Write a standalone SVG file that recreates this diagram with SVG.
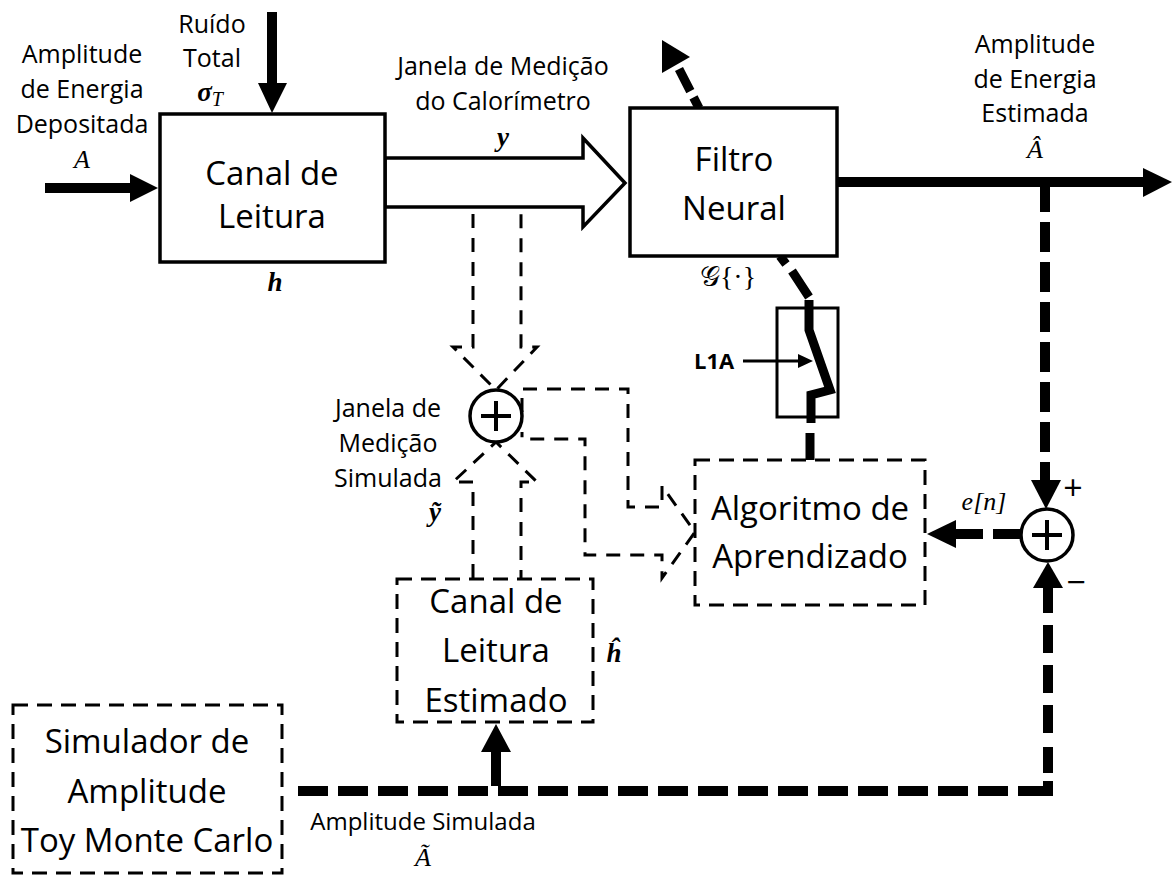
<svg xmlns="http://www.w3.org/2000/svg" width="1173" height="877" viewBox="0 0 1173 877">
<style>
.t{font-family:"Open Sans","Liberation Sans",sans-serif;font-size:25px;fill:#000;text-anchor:middle}
.b{font-family:"Open Sans","Liberation Sans",sans-serif;font-size:33px;fill:#000;text-anchor:middle}
.m{font-family:"Liberation Serif","DejaVu Serif",serif;font-style:italic;font-size:26px;fill:#000;text-anchor:middle}
.mb{font-family:"Liberation Serif","DejaVu Serif",serif;font-style:italic;font-weight:bold;font-size:27px;fill:#000;text-anchor:middle}
.box{fill:#fff;stroke:#000;stroke-width:3.5}
.dbox{fill:#fff;stroke:#000;stroke-width:3;stroke-dasharray:15 9}
.thin{fill:none;stroke:#000;stroke-width:3}
.dthin{fill:none;stroke:#000;stroke-width:3;stroke-dasharray:14 10}
.thick{fill:none;stroke:#000;stroke-width:10}
.med{fill:none;stroke:#000;stroke-width:9}
.head{fill:#000;stroke:none}
.sum{fill:#fff;stroke:#000;stroke-width:3.5}
.plus{stroke:#000;stroke-width:4}
</style>

<g id="connectors">
  <!-- input A -->
  <line class="thick" x1="45" y1="188" x2="132" y2="188"/>
  <polygon class="head" points="158,188 130,174 130,202"/>
  <!-- noise -->
  <line class="thick" x1="272" y1="12" x2="272" y2="86"/>
  <polygon class="head" points="272,113 258,83 287,83"/>
  <!-- hollow arrow y -->
  <polygon points="385,158 583,158 583,138 625,183 583,227 583,207 385,207" fill="#fff" stroke="#000" stroke-width="3.5"/>
  <!-- dashed hollow down into sum -->
  <polyline class="dthin" points="473,214 473,347 453,347 496,390 537,347 521,347 521,214"/>
  <!-- dashed hollow up from estimated channel -->
  <polyline class="dthin" points="473,578 473,482 453,482 496,442 537,482 521,482 521,578"/>
  <!-- dashed hollow right to algoritmo -->
  <polyline class="dthin" points="522,412 522,389 628,389 628,507 662,507 662,486 695,532 662,578 662,555 585,555 585,439 522,439 522,432"/>
  <!-- upward dashed arrow from filtro -->
  <line class="med" x1="699" y1="108" x2="679" y2="69" stroke-dasharray="12 7 40"/>
  <polygon class="head" points="662,40 662,73 690,57"/>
  <!-- filtro to switch -->
  <path class="med" d="M780 256 L786 264 M792 271 L809 297"/>
  <!-- switch -->
  <polyline class="med" points="809,300 809,330 830,390 811,395 811,423" stroke-linejoin="miter"/>
  <line class="med" x1="810" y1="433" x2="810" y2="460"/>
  <!-- L1A arrow -->
  <line class="thin" x1="743" y1="361" x2="801" y2="361"/>
  <polygon class="head" points="813,361 798,354 798,368"/>
  <!-- output -->
  <line class="thick" x1="837" y1="182" x2="1146" y2="182"/>
  <polygon class="head" points="1172,182 1143,168 1143,197"/>
  <!-- down to error sum -->
  <line class="thick" x1="1045" y1="182" x2="1045" y2="484" stroke-dasharray="30 10"/>
  <polygon class="head" points="1046,509 1031,480 1061,480"/>
  <!-- e[n] -->
  <path class="thick" d="M1022 534 H993 M983 534 H953"/>
  <polygon class="head" points="927,534 956,520 956,548"/>
  <!-- bottom path -->
  <line class="thick" x1="288" y1="791" x2="1018" y2="791" stroke-dasharray="30 10" stroke-dashoffset="30"/>
  <path class="thick" d="M1018 791 H1048 V781"/>
  <path class="thick" d="M1048 773 V747 M1048 733 V705 M1048 693 V665 M1048 653 V625 M1048 613 V586"/>
  <polygon class="head" points="1048,562 1033,588 1063,588"/>
  <!-- up to estimated channel -->
  <line class="thick" x1="496" y1="786" x2="496" y2="750"/>
  <polygon class="head" points="496,724 481,752 511,752"/>
</g>

<g id="canal">
  <rect class="box" x="160" y="114" width="225" height="148"/>
  <text class="b" x="272" y="185">Canal de</text>
  <text class="b" x="272" y="228">Leitura</text>
  <text class="mb" x="275" y="291">h</text>
</g>

<g id="labels-left">
  <text class="t" x="82" y="63">Amplitude</text>
  <text class="t" x="82" y="98">de Energia</text>
  <text class="t" x="82" y="133">Depositada</text>
  <text class="m" x="82" y="168">A</text>
  <text class="t" x="212" y="33">Ruído</text>
  <text class="t" x="212" y="67">Total</text>
  <text class="mb" x="210" y="101">σ<tspan style="font-weight:normal;font-size:20px" dy="5">T</tspan></text>
  <text class="t" x="503" y="75">Janela de Medição</text>
  <text class="t" x="503" y="110">do Calorímetro</text>
  <text class="mb" x="503" y="146">y</text>
</g>

<g id="filtro">
  <rect class="box" x="630" y="108" width="207" height="148"/>
  <text class="b" x="734" y="171">Filtro</text>
  <text class="b" x="734" y="220">Neural</text>
  <text class="m" x="728" y="286" style="font-style:normal;font-size:28px">𝒢{·}</text>
</g>

<g id="switch">
  <rect class="thin" x="777" y="308" width="61" height="109"/>
  <text x="694" y="369" style="font-family:'Open Sans','Liberation Sans',sans-serif;font-weight:bold;font-size:22px">L1A</text>
</g>

<g id="saida">
  <text class="t" x="1035" y="53">Amplitude</text>
  <text class="t" x="1035" y="88">de Energia</text>
  <text class="t" x="1035" y="122">Estimada</text>
  <text class="m" x="1035" y="158">Â</text>
</g>

<g id="soma1">
  <circle class="sum" cx="496" cy="416" r="26"/>
  <line class="plus" x1="481" y1="416" x2="511" y2="416"/>
  <line class="plus" x1="496" y1="401" x2="496" y2="431"/>
  <text class="t" x="388" y="417">Janela de</text>
  <text class="t" x="388" y="452">Medição</text>
  <text class="t" x="388" y="487">Simulada</text>
  <text class="mb" x="435" y="521">ỹ</text>
</g>

<g id="algoritmo">
  <rect class="dbox" x="695" y="460" width="230" height="145"/>
  <text class="b" x="810" y="520">Algoritmo de</text>
  <text class="b" x="810" y="568">Aprendizado</text>
</g>

<g id="soma2">
  <circle class="sum" cx="1047" cy="535" r="26"/>
  <line class="plus" x1="1032" y1="535" x2="1062" y2="535"/>
  <line class="plus" x1="1047" y1="520" x2="1047" y2="550"/>
  <text class="t" x="1073" y="500" style="font-size:34px">+</text>
  <text class="t" x="1076" y="594" style="font-size:34px">−</text>
  <text class="m" x="984" y="510">e[n]</text>
</g>

<g id="canal-estimado">
  <rect class="dbox" x="397" y="579" width="196" height="143"/>
  <text class="b" x="496" y="613">Canal de</text>
  <text class="b" x="496" y="662">Leitura</text>
  <text class="b" x="496" y="712">Estimado</text>
  <text class="mb" x="614" y="662">ĥ</text>
</g>

<g id="simulador">
  <rect class="dbox" x="13" y="705" width="269" height="168"/>
  <text class="b" x="147" y="753">Simulador de</text>
  <text class="b" x="147" y="803">Amplitude</text>
  <text class="b" x="147" y="852">Toy Monte Carlo</text>
  <text class="t" x="423" y="830" style="font-size:24px">Amplitude Simulada</text>
  <text class="m" x="423" y="866">Ã</text>
</g>
</svg>
